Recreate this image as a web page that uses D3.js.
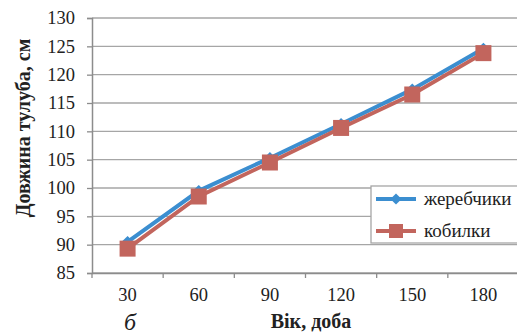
<!DOCTYPE html>
<meta charset="utf-8">
<script src="https://d3js.org/d3.v7.min.js"></script>
<style>
  body { margin: 0; background: #fff; }
</style>
<div id="my_dataviz"></div>
<script>

// data
var ages = ["30", "60", "90", "120", "150", "180"];
var stallions = [90.5, 99.5, 105.3, 111.3, 117.4, 124.6];   // жеребчики
var mares = [89.3, 98.5, 104.5, 110.6, 116.5, 123.8];       // кобилки
var yTicks = [85, 90, 95, 100, 105, 110, 115, 120, 125, 130];

var width = 517, height = 336;
var margin = {top: 18, right: -2, bottom: 63, left: 92};
var serif = "'Liberation Serif', 'Times New Roman', serif";

var svg = d3.select("#my_dataviz")
  .append("svg")
    .attr("width", width)
    .attr("height", height);

var x = d3.scaleBand()
  .domain(ages)
  .range([margin.left, width - margin.right]);

var y = d3.scaleLinear()
  .domain([85, 130])
  .range([height - margin.bottom, margin.top]);

// horizontal gridlines
svg.append("g")
  .selectAll("line")
  .data(yTicks)
  .enter()
  .append("line")
    .attr("x1", margin.left)
    .attr("x2", width)
    .attr("y1", function (d) { return y(d); })
    .attr("y2", function (d) { return y(d); })
    .style("stroke", "#a6a6a6")
    .style("stroke-width", 1.3);

// Y axis
var yAxis = svg.append("g")
  .attr("transform", "translate(" + margin.left + ",0)")
  .call(d3.axisLeft(y).tickValues(yTicks).tickSize(5).tickPadding(12));
yAxis.attr("font-family", serif).attr("font-size", 18.5);
yAxis.selectAll("text").attr("fill", "#222");

// X axis, ticks between the categories
var xAxis = svg.append("g")
  .attr("transform", "translate(0," + y(85) + ")")
  .call(d3.axisBottom(x).tickSize(0).tickPadding(15));
xAxis.attr("font-family", serif).attr("font-size", 18.5);
xAxis.selectAll("text").attr("fill", "#222");
xAxis.append("g")
  .selectAll("line")
  .data(ages)
  .enter()
  .append("line")
    .attr("x1", function (d) { return x(d); })
    .attr("x2", function (d) { return x(d); })
    .attr("y1", 0)
    .attr("y2", 5)
    .style("stroke", "#8c8c8c")
    .style("stroke-width", 1.3);

svg.selectAll(".domain").style("stroke", "#8c8c8c").style("stroke-width", 1.5);
svg.selectAll(".tick line").style("stroke", "#8c8c8c").style("stroke-width", 1.3);

// axis titles
svg.append("text")
  .attr("text-anchor", "middle")
  .attr("transform", "translate(30,128) rotate(-90)")
  .attr("font-family", serif)
  .attr("font-size", 20)
  .attr("font-weight", "bold")
  .attr("fill", "#222")
  .text("Довжина тулуба, см");

svg.append("text")
  .attr("text-anchor", "middle")
  .attr("x", 311)
  .attr("y", 328)
  .attr("font-family", serif)
  .attr("font-size", 20)
  .attr("font-weight", "bold")
  .attr("fill", "#222")
  .text("Вік, доба");

svg.append("text")
  .attr("x", 124)
  .attr("y", 330)
  .attr("font-family", serif)
  .attr("font-size", 24)
  .attr("font-style", "italic")
  .attr("fill", "#222")
  .text("б");

var cx = function (d, i) { return x(ages[i]) + x.bandwidth() / 2; };

var line = d3.line()
  .x(function (d, i) { return cx(d, i); })
  .y(function (d) { return y(d); });

var blue = "#3b8ed0", red = "#c2655d";

// жеребчики
svg.append("path")
  .datum(stallions)
  .attr("d", line)
  .style("fill", "none")
  .style("stroke", blue)
  .style("stroke-width", 4);
svg.append("g")
  .selectAll("path")
  .data(stallions)
  .enter()
  .append("path")
    .attr("d", d3.symbol().type(d3.symbolDiamond2).size(90))
    .attr("transform", function (d, i) { return "translate(" + cx(d, i) + "," + y(d) + ")"; })
    .style("fill", blue);

// кобилки
svg.append("path")
  .datum(mares)
  .attr("d", line)
  .style("fill", "none")
  .style("stroke", red)
  .style("stroke-width", 4);
svg.append("g")
  .selectAll("rect")
  .data(mares)
  .enter()
  .append("rect")
    .attr("x", function (d, i) { return cx(d, i) - 8; })
    .attr("y", function (d) { return y(d) - 8; })
    .attr("width", 16)
    .attr("height", 16)
    .style("fill", red);

// legend
var legend = svg.append("g");
legend.append("rect")
  .attr("x", 371)
  .attr("y", 186)
  .attr("width", 160)
  .attr("height", 57)
  .style("fill", "#fff")
  .style("stroke", "#a6a6a6")
  .style("stroke-width", 1.3);

var items = [
  {name: "жеребчики", color: blue, shape: "diamond"},
  {name: "кобилки", color: red, shape: "square"}
];
items.forEach(function (it, i) {
  var ly = 199 + i * 32;
  legend.append("line")
    .attr("x1", 376).attr("x2", 416)
    .attr("y1", ly).attr("y2", ly)
    .style("stroke", it.color)
    .style("stroke-width", 4);
  if (it.shape === "diamond") {
    legend.append("path")
      .attr("d", d3.symbol().type(d3.symbolDiamond2).size(80))
      .attr("transform", "translate(396," + ly + ")")
      .style("fill", it.color);
  } else {
    legend.append("rect")
      .attr("x", 389).attr("y", ly - 7)
      .attr("width", 14).attr("height", 14)
      .style("fill", it.color);
  }
  legend.append("text")
    .attr("x", 424)
    .attr("y", ly + 6)
    .attr("font-family", serif)
    .attr("font-size", 19)
    .attr("fill", "#222")
    .text(it.name);
});

</script>
